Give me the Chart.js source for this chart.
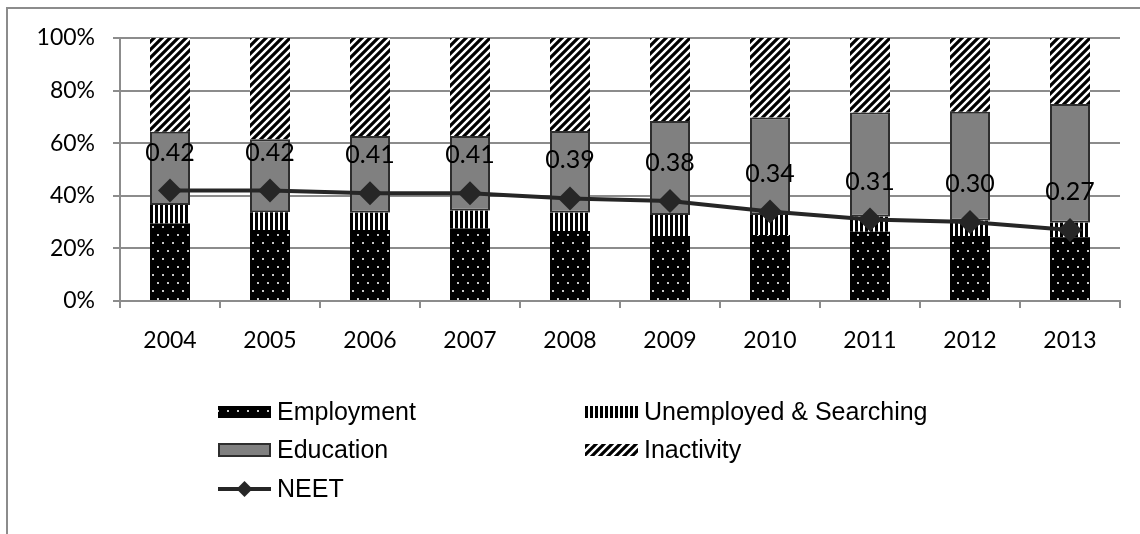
<!DOCTYPE html>
<html><head><meta charset="utf-8">
<script src="https://cdn.jsdelivr.net/npm/chart.js@4.4.1/dist/chart.umd.min.js"></script>
<style>
html,body{margin:0;padding:0;background:#fff;overflow:hidden;}
#frame{position:absolute;left:6px;top:7px;width:1200px;height:600px;border-top:2px solid #8c8c8c;border-left:2px solid #8c8c8c;}
#wrap{position:absolute;left:0;top:0;width:1140px;height:534px;}
</style></head><body>
<div id="frame"></div>
<div id="wrap"><canvas id="c" width="1140" height="534"></canvas></div>
<script>
// ---- data (shares of the population, 0..1) ----
const years = ['2004','2005','2006','2007','2008','2009','2010','2011','2012','2013'];
const employment = [0.295, 0.270, 0.270, 0.276, 0.266, 0.247, 0.251, 0.263, 0.247, 0.242];
const unemployed = [0.070, 0.067, 0.066, 0.067, 0.070, 0.080, 0.076, 0.057, 0.058, 0.056];
const education  = [0.279, 0.278, 0.291, 0.284, 0.310, 0.357, 0.371, 0.397, 0.415, 0.451];
const inactivity = [0.356, 0.385, 0.373, 0.373, 0.354, 0.316, 0.302, 0.283, 0.280, 0.251];
const neet       = [0.42, 0.42, 0.41, 0.41, 0.39, 0.38, 0.34, 0.31, 0.30, 0.27];
const yTicks = [0, 0.2, 0.4, 0.6, 0.8, 1.0];
const seriesNames = ['NEET','Employment','Unemployed & Searching','Education','Inactivity'];

function makeTile(w,h,draw){const c=document.createElement('canvas');c.width=w;c.height=h;const g=c.getContext('2d');draw(g,w,h);return c;}
function dotsPattern(ctx){
  const t=makeTile(10,16,(g)=>{g.fillStyle='#000';g.fillRect(0,0,10,16);g.fillStyle='#c8c8c8';g.fillRect(2,2,2,2);g.fillRect(7,10,2,2);});
  return ctx.createPattern(t,'repeat');
}
function vStripePattern(ctx){
  const t=makeTile(5,5,(g)=>{g.fillStyle='#fff';g.fillRect(0,0,5,5);g.fillStyle='#000';g.fillRect(0,0,3,5);});
  return ctx.createPattern(t,'repeat');
}
function diagPattern(ctx){
  const t=makeTile(8,8,(g)=>{g.fillStyle='#fff';g.fillRect(0,0,8,8);g.strokeStyle='#000';g.lineWidth=3.2;g.beginPath();
    g.moveTo(-2,10);g.lineTo(10,-2);g.moveTo(-2,2);g.lineTo(2,-2);g.moveTo(6,10);g.lineTo(10,6);g.stroke();});
  return ctx.createPattern(t,'repeat');
}

function draw(){
  const canvas=document.getElementById('c');
  const ctx=canvas.getContext('2d');
  const pats={emp:dotsPattern(ctx),une:vStripePattern(ctx),edu:'#808080',ina:diagPattern(ctx)};

  const labelPlugin={
    id:'neetLabels',
    afterDatasetsDraw(chart){
      const meta=chart.getDatasetMeta(0);const c=chart.ctx;
      c.save();c.font='25px Lato';c.fillStyle='#000';c.textAlign='center';c.textBaseline='middle';
      meta.data.forEach((p,i)=>{c.fillText(neet[i].toFixed(2),p.x,p.y-38);});
      c.restore();
    }
  };
  const legendPlugin={
    id:'gridLegend',
    afterDraw(chart){
      const c=chart.ctx;const ds=chart.data.datasets;
      const cols=[218,585], rows=[412,450,489], bw=53;
      const items=[{d:1,col:0,row:0},{d:2,col:1,row:0},{d:3,col:0,row:1},{d:4,col:1,row:1},{d:0,col:0,row:2}];
      c.save();
      items.forEach(it=>{
        const x=cols[it.col], y=rows[it.row], d=ds[it.d];
        if(d.type==='line'){
          c.strokeStyle=d.borderColor;c.lineWidth=4;c.beginPath();c.moveTo(x,y);c.lineTo(x+bw,y);c.stroke();
          c.fillStyle=d.pointBackgroundColor;c.beginPath();const r=8,cx=x+bw/2;
          c.moveTo(cx,y-r);c.lineTo(cx+r,y);c.lineTo(cx,y+r);c.lineTo(cx-r,y);c.closePath();c.fill();
        } else {
          const h=d.borderWidth?14:12;
          c.fillStyle=d.backgroundColor;c.fillRect(x,y-h/2,bw,h);
          if(d.borderWidth){c.strokeStyle=d.borderColor;c.lineWidth=2;c.strokeRect(x+1,y-h/2+1,bw-2,h-2);}
        }
        c.fillStyle='#000';c.font='25px "Liberation Sans"';c.textAlign='left';c.textBaseline='middle';
        c.fillText(d.label,x+bw+6,y+1);
      });
      c.restore();
    }
  };

  new Chart(ctx,{
    type:'bar',
    data:{labels:years,datasets:[
      {type:'line',label:seriesNames[0],data:neet,stack:'neet',order:0,borderColor:'#262626',borderWidth:4,
       pointStyle:'rectRot',pointRadius:12,pointBackgroundColor:'#262626',pointBorderColor:'#262626',pointBorderWidth:0,tension:0,fill:false},
      {label:seriesNames[1],data:employment,stack:'s',order:1,backgroundColor:pats.emp,borderWidth:0},
      {label:seriesNames[2],data:unemployed,stack:'s',order:1,backgroundColor:pats.une,borderWidth:0},
      {label:seriesNames[3],data:education,stack:'s',order:1,backgroundColor:pats.edu,borderColor:'#2e2e2e',borderWidth:2,borderSkipped:false},
      {label:seriesNames[4],data:inactivity,stack:'s',order:1,backgroundColor:pats.ina,borderWidth:0}
    ]},
    options:{
      responsive:false,animation:false,devicePixelRatio:1,
      layout:{padding:{left:0,right:20,top:38,bottom:183}},
      datasets:{bar:{barPercentage:0.4,categoryPercentage:1.0}},
      plugins:{legend:{display:false},tooltip:{enabled:false}},
      scales:{
        x:{stacked:true,offset:true,
           grid:{offset:true,drawOnChartArea:false,drawTicks:true,tickLength:7,color:'#8c8c8c',lineWidth:2},
           border:{color:'#8c8c8c',width:2},
           ticks:{font:{family:'Lato',size:23},color:'#000',padding:19,maxRotation:0},
           afterFit:(s)=>{s.height=50;}},
        y:{stacked:true,min:0,max:1,
           afterBuildTicks:(s)=>{s.ticks=yTicks.map(v=>({value:v}));},
           grid:{color:'#8c8c8c',lineWidth:2,tickLength:7},
           border:{color:'#8c8c8c',width:2},
           ticks:{font:{family:'Lato',size:23},color:'#000',padding:18,callback:(v)=>Math.round(v*100)+'%'},
           afterFit:(s)=>{s.width=120;}}
      }
    },
    plugins:[labelPlugin,legendPlugin]
  });
}
Promise.all([document.fonts.load('23px Lato'),document.fonts.load('25px "Liberation Sans"')]).then(draw,draw);
</script>
</body></html>
